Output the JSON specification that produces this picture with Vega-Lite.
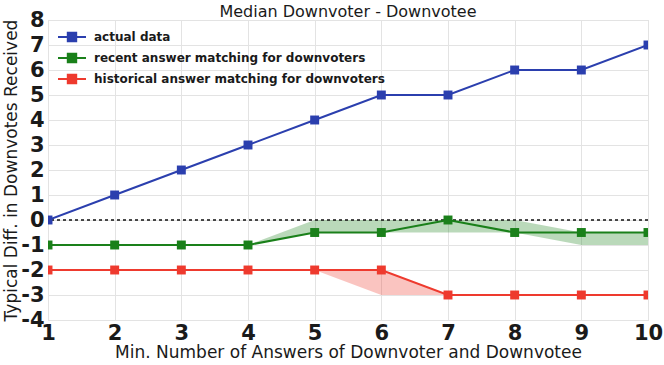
{
  "$schema": "https://vega.github.io/schema/vega-lite/v6.json",
  "width": 600,
  "height": 300,
  "autosize": {"type": "none"},
  "padding": {"left": 48, "top": 20, "right": 16, "bottom": 45},
  "background": "white",
  "config": {
    "font": "DejaVu Sans",
    "view": {"stroke": "#dddddd", "strokeWidth": 1},
    "axis": {
      "grid": true, "gridColor": "#e3e3e3", "gridWidth": 1,
      "domain": false, "ticks": false, "labelFlush": false, "labelOverlap": false,
      "labelFont": "DejaVu Sans", "labelFontWeight": "bold", "labelFontSize": 21, "labelColor": "#1a1a1a",
      "titleFont": "DejaVu Sans", "titleFontWeight": "normal", "titleFontSize": 17, "titleColor": "#1a1a1a"
    }
  },
  "title": {"text": "Median Downvoter - Downvotee", "fontSize": 16, "fontWeight": "normal", "font": "DejaVu Sans", "color": "#1a1a1a", "offset": 1, "dy": 12},
  "datasets": {
    "lines": [
      {"x": 1, "y": 0, "series": "actual data"},
      {"x": 2, "y": 1, "series": "actual data"},
      {"x": 3, "y": 2, "series": "actual data"},
      {"x": 4, "y": 3, "series": "actual data"},
      {"x": 5, "y": 4, "series": "actual data"},
      {"x": 6, "y": 5, "series": "actual data"},
      {"x": 7, "y": 5, "series": "actual data"},
      {"x": 8, "y": 6, "series": "actual data"},
      {"x": 9, "y": 6, "series": "actual data"},
      {"x": 10, "y": 7, "series": "actual data"},
      {"x": 1, "y": -1, "series": "recent answer matching for downvoters"},
      {"x": 2, "y": -1, "series": "recent answer matching for downvoters"},
      {"x": 3, "y": -1, "series": "recent answer matching for downvoters"},
      {"x": 4, "y": -1, "series": "recent answer matching for downvoters"},
      {"x": 5, "y": -0.5, "series": "recent answer matching for downvoters"},
      {"x": 6, "y": -0.5, "series": "recent answer matching for downvoters"},
      {"x": 7, "y": 0, "series": "recent answer matching for downvoters"},
      {"x": 8, "y": -0.5, "series": "recent answer matching for downvoters"},
      {"x": 9, "y": -0.5, "series": "recent answer matching for downvoters"},
      {"x": 10, "y": -0.5, "series": "recent answer matching for downvoters"},
      {"x": 1, "y": -2, "series": "historical answer matching for downvoters"},
      {"x": 2, "y": -2, "series": "historical answer matching for downvoters"},
      {"x": 3, "y": -2, "series": "historical answer matching for downvoters"},
      {"x": 4, "y": -2, "series": "historical answer matching for downvoters"},
      {"x": 5, "y": -2, "series": "historical answer matching for downvoters"},
      {"x": 6, "y": -2, "series": "historical answer matching for downvoters"},
      {"x": 7, "y": -3, "series": "historical answer matching for downvoters"},
      {"x": 8, "y": -3, "series": "historical answer matching for downvoters"},
      {"x": 9, "y": -3, "series": "historical answer matching for downvoters"},
      {"x": 10, "y": -3, "series": "historical answer matching for downvoters"}
    ],
    "bands": [
      {"x": 1, "lo": -1, "hi": -1, "series": "recent"},
      {"x": 2, "lo": -1, "hi": -1, "series": "recent"},
      {"x": 3, "lo": -1, "hi": -1, "series": "recent"},
      {"x": 4, "lo": -1, "hi": -1, "series": "recent"},
      {"x": 5, "lo": -0.5, "hi": 0, "series": "recent"},
      {"x": 6, "lo": -0.5, "hi": 0, "series": "recent"},
      {"x": 7, "lo": -0.5, "hi": 0, "series": "recent"},
      {"x": 8, "lo": -0.5, "hi": 0, "series": "recent"},
      {"x": 9, "lo": -1, "hi": -0.5, "series": "recent"},
      {"x": 10, "lo": -1, "hi": -0.5, "series": "recent"},
      {"x": 1, "lo": -2, "hi": -2, "series": "historical"},
      {"x": 2, "lo": -2, "hi": -2, "series": "historical"},
      {"x": 3, "lo": -2, "hi": -2, "series": "historical"},
      {"x": 4, "lo": -2, "hi": -2, "series": "historical"},
      {"x": 5, "lo": -2, "hi": -2, "series": "historical"},
      {"x": 6, "lo": -3, "hi": -2, "series": "historical"},
      {"x": 7, "lo": -3, "hi": -3, "series": "historical"},
      {"x": 8, "lo": -3, "hi": -3, "series": "historical"},
      {"x": 9, "lo": -3, "hi": -3, "series": "historical"},
      {"x": 10, "lo": -3, "hi": -3, "series": "historical"}
    ],
    "zero": [{"y": 0}]
  },
  "encoding": {
    "x": {"type": "quantitative", "scale": {"domain": [1, 10], "nice": false, "zero": false},
          "axis": {"values": [1,2,3,4,5,6,7,8,9,10], "title": "Min. Number of Answers of Downvoter and Downvotee", "labelPadding": 2, "titleY": 24}},
    "y": {"type": "quantitative", "scale": {"domain": [-4, 8], "nice": false, "zero": false},
          "axis": {"values": [-4,-3,-2,-1,0,1,2,3,4,5,6,7,8], "title": "Typical Diff. in Downvotes Received", "labelPadding": 4, "titleX": -28,
                   "labelExpr": "replace(datum.label, '\u2212', '-')"}}
  },
  "layer": [
    {
      "data": {"name": "bands"},
      "mark": {"type": "area", "fillOpacity": 0.3, "clip": true},
      "encoding": {
        "x": {"field": "x"},
        "y": {"field": "lo"},
        "y2": {"field": "hi"},
        "fill": {"field": "series", "type": "nominal", "scale": {"domain": ["recent", "historical"], "range": ["#1a801a", "#ee3a2e"]}, "legend": null}
      }
    },
    {
      "data": {"name": "zero"},
      "mark": {"type": "rule", "color": "#111111", "strokeWidth": 1.5, "strokeDash": [3, 3]},
      "encoding": {"y": {"field": "y"}}
    },
    {
      "data": {"name": "lines"},
      "mark": {"type": "line", "strokeWidth": 2, "clip": true, "point": {"shape": "square", "filled": true, "size": 80}},
      "encoding": {
        "x": {"field": "x"},
        "y": {"field": "y"},
        "color": {
          "field": "series", "type": "nominal",
          "scale": {"domain": ["actual data", "recent answer matching for downvoters", "historical answer matching for downvoters"], "range": ["#2b3fae", "#1a801a", "#ee3a2e"]},
          "legend": {
            "title": null, "orient": "none", "legendX": 16, "legendY": 9,
            "symbolType": "M-2,0H2M-0.6,-0.6H0.6V0.6H-0.6Z",
            "symbolSize": 196, "symbolStrokeWidth": 2,
            "labelFont": "DejaVu Sans", "labelFontWeight": "bold", "labelFontSize": 12, "labelColor": "#1a1a1a",
            "labelLimit": 500, "rowPadding": 3, "labelOffset": 14
          }
        }
      }
    }
  ]
}
